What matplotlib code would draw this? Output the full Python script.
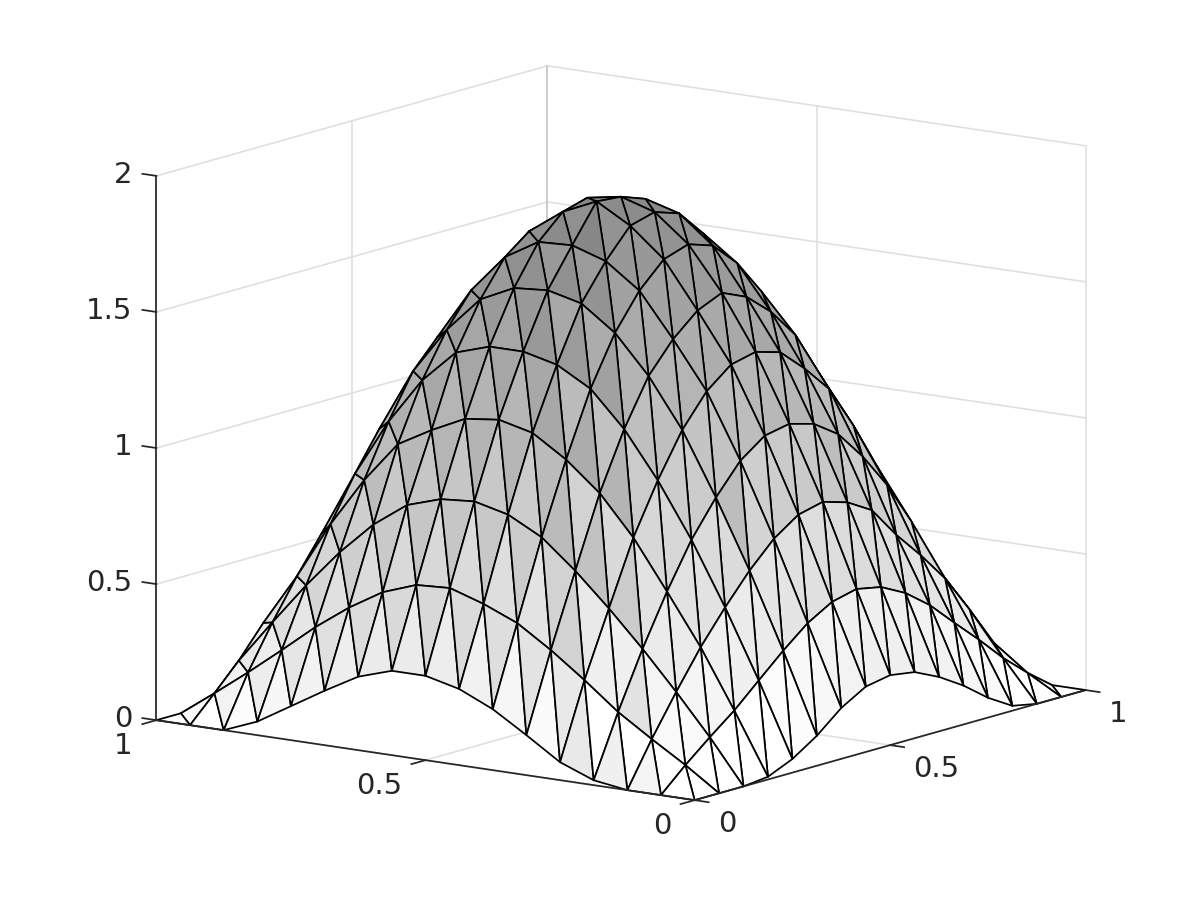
import matplotlib
matplotlib.use("Agg")
import matplotlib.pyplot as plt
import numpy as np
from mpl_toolkits.mplot3d import proj3d
from mpl_toolkits.mplot3d.art3d import Poly3DCollection

# height on the 17x17 grid (row = x index, column = y index)
z_rows = [
    [0, 0, 0, .018, .066, .147, .224, .28, .31, .31, .27, .20, .125, .05, 0, 0, 0],
    [0, .085, .162, .243, .342, .434, .515, .567, .607, .60, .555, .48, .39, .287, .187, .092, 0],
    [0, .162, .31, .45, .58, .70, .805, .87, .90, .89, .85, .76, .64, .50, .346, .187, 0],
    [.01, .235, .449, .635, .815, .96, 1.065, 1.145, 1.175, 1.16, 1.10, 1.03, .88, .70, .49, .30, .01],
    [.05, .32, .57, .80, 1.0, 1.17, 1.30, 1.37, 1.40, 1.40, 1.36, 1.24, 1.07, .86, .62, .36, .05],
    [.11, .404, .68, .93, 1.16, 1.34, 1.48, 1.57, 1.60, 1.59, 1.53, 1.40, 1.23, 1.0, .72, .43, .11],
    [.187, .48, .772, 1.04, 1.277, 1.45, 1.61, 1.70, 1.74, 1.734, 1.66, 1.52, 1.33, 1.09, .80, .49, .187],
    [.24, .533, .835, 1.107, 1.35, 1.53, 1.70, 1.805, 1.876, 1.82, 1.73, 1.57, 1.37, 1.12, .85, .54, .24],
    [.257, .555, .857, 1.125, 1.371, 1.57, 1.73, 1.83, 1.868, 1.846, 1.75, 1.59, 1.39, 1.15, .88, .58, .257],
    [.243, .537, .83, 1.10, 1.345, 1.53, 1.70, 1.80, 1.835, 1.80, 1.73, 1.57, 1.37, 1.12, .85, .54, .24],
    [.20, .49, .776, 1.037, 1.26, 1.45, 1.61, 1.70, 1.74, 1.734, 1.66, 1.52, 1.33, 1.09, .80, .49, .187],
    [.143, .42, .66, .93, 1.16, 1.34, 1.48, 1.57, 1.60, 1.59, 1.53, 1.40, 1.23, 1.0, .72, .43, .11],
    [.073, .33, .56, .80, 1.0, 1.17, 1.30, 1.37, 1.40, 1.40, 1.36, 1.24, 1.07, .86, .62, .36, .05],
    [.018, .243, .449, .64, .82, .965, 1.07, 1.14, 1.16, 1.16, 1.12, 1.03, .88, .70, .49, .30, .01],
    [0, .15, .31, .45, .58, .69, .785, .845, .87, .89, .85, .76, .64, .50, .346, .187, 0],
    [0, .07, .162, .243, .342, .434, .515, .567, .607, .60, .555, .48, .39, .287, .187, .092, 0],
    [0, 0, 0, .018, .066, .147, .224, .28, .31, .31, .27, .20, .125, .05, 0, 0, 0],
]
xy_ticks = [0, 0.5, 1]
xy_ticklabels = ["0", "0.5", "1"]
z_ticks = [0, 0.5, 1, 1.5, 2]
z_ticklabels = ["0", "0.5", "1", "1.5", "2"]
# cells whose upper triangle takes its grey from a different corner in the picture
dark_cells = [(5, 2), (9, 2)]
light_cells = [(1, 3)]

Z = np.array(z_rows)
n = Z.shape[0]
grid = np.linspace(0, 1, n)

GRID = "#e0e0e0"
INK = "#262626"
FS = 21
LW = 1.25

fig = plt.figure(figsize=(12, 9), dpi=100)
# axes bigger than the figure so nothing gets clipped by the 3d axes patch
ax = fig.add_axes([-97.9 / 1200, -251.9 / 900, 1400 / 1200, 1400 / 900], projection="3d", proj_type="ortho")
ax.set_xticks([])
ax.set_yticks([])
ax.set_zticks([])
ax.set_axis_off()
ax.computed_zorder = False
ax.view_init(elev=11.8, azim=-144)

# back walls and floor grid
for t in xy_ticks:
    ax.plot([t, t], [1, 1], [0, 2], color=GRID, lw=1.2, zorder=1)
    ax.plot([1, 1], [t, t], [0, 2], color=GRID, lw=1.2, zorder=1)
    ax.plot([t, t], [0, 1], [0, 0], color=GRID, lw=1.2, zorder=1)
    ax.plot([0, 1], [t, t], [0, 0], color=GRID, lw=1.2, zorder=1)
for t in z_ticks:
    ax.plot([0, 1], [1, 1], [t, t], color=GRID, lw=1.2, zorder=1)
    ax.plot([1, 1], [0, 1], [t, t], color=GRID, lw=1.2, zorder=1)
ax.plot([1, 1], [1, 1], [0, 2], color="#c8c8c8", lw=1.2, zorder=1)

tris = []
shade = []
for i in range(n - 1):
    for j in range(n - 1):
        a = (grid[i], grid[j], Z[i, j])
        b = (grid[i + 1], grid[j], Z[i + 1, j])
        c = (grid[i + 1], grid[j + 1], Z[i + 1, j + 1])
        d = (grid[i], grid[j + 1], Z[i, j + 1])
        gap = j - i
        # each triangle is flat grey from one of its corners, which corner depends on the zone
        if gap >= 4:
            lower, upper = Z[i + 1, j], Z[i, j]
        elif gap >= 1:
            lower, upper = Z[i, j], Z[i + 1, j + 1]
        else:
            lower, upper = Z[i, j], Z[i, j]
        if (i, j) in dark_cells:
            upper = Z[i + 1, j + 1]
        if (i, j) in light_cells:
            upper = Z[i, j]
        tris.append([a, b, c])
        shade.append(lower)
        tris.append([a, c, d])
        shade.append(upper)
cols = [str(1 - 0.25 * s) for s in shade]
surf = Poly3DCollection(tris, facecolors=cols, edgecolors="k", linewidths=LW, zsort="average", zorder=2)
ax.add_collection3d(surf)

# axis lines and ticks
ax.plot([0, 1], [0, 0], [0, 0], color=INK, lw=LW, zorder=3)
ax.plot([0, 0], [0, 1], [0, 0], color=INK, lw=LW, zorder=3)
ax.plot([0, 0], [1, 1], [0, 2], color=INK, lw=LW, zorder=3)
for t in xy_ticks:
    ax.plot([t, t], [0, -0.026], [0, 0], color=INK, lw=LW, zorder=3)
    ax.plot([0, -0.036], [t, t], [0, 0], color=INK, lw=LW, zorder=3)
for t in z_ticks:
    ax.plot([0, 0], [1, 1.026], [t, t], color=INK, lw=LW, zorder=3)

ax.set_xlim(0, 1, view_margin=0)
ax.set_ylim(0, 1, view_margin=0)
ax.set_zlim(0, 2, view_margin=0)
ax.set_box_aspect((1, 1, 0.8358), zoom=0.7578)


def label(x, y, z, s, ha):
    # project by hand so the text sits in plain 2d axes coordinates
    px, py, _ = proj3d.proj_transform(x, y, z, ax.get_proj())
    ax.text2D(px, py, s, transform=ax.transData, fontsize=FS, color=INK, ha=ha, va="center", zorder=4)


for t, lab in zip(xy_ticks, xy_ticklabels):
    label(t, -0.043, -0.074, lab, "left")
    label(-0.060, t, -0.0715, lab, "right")
for t, lab in zip(z_ticks, z_ticklabels):
    label(-0.062, 1, t + 0.029, lab, "right")

fig.savefig("out.png", dpi=100)
